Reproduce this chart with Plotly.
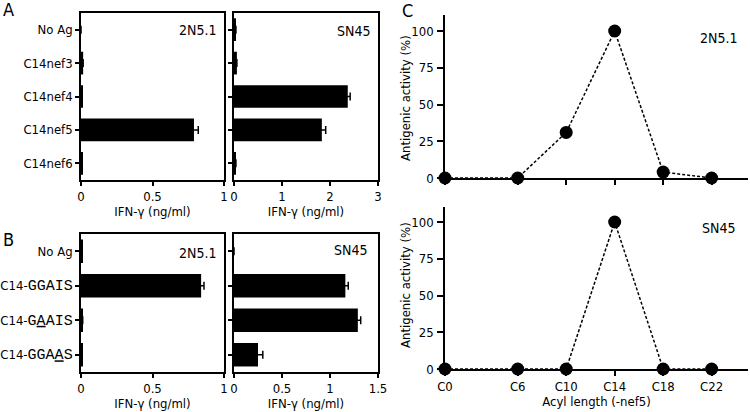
import plotly.graph_objects as go

# ---------------- data ----------------
catA = ["No Ag", "C14nef3", "C14nef4", "C14nef5", "C14nef6"]
a_2n5 = [0.0, 0.015, 0.008, 0.79, 0.008]
a_2n5_err = [0, 0, 0, 0.03, 0]
a_sn45 = [0.04, 0.06, 2.37, 1.83, 0.04]
a_sn45_err = [0, 0, 0.05, 0.08, 0]

catB = ["No Ag", "C14-GGAIS", "C14-GAAIS", "C14-GGAAS"]
seqB = ["", "GGAIS", "GAAIS", "GGAAS"]
underlineB = [None, None, 1, 3]   # index of substituted residue
b_2n5 = [0.008, 0.84, 0.012, 0.008]
b_2n5_err = [0, 0.02, 0, 0]
b_sn45 = [0.0, 1.16, 1.29, 0.25]
b_sn45_err = [0, 0.03, 0.03, 0.05]

acyl = [0, 6, 10, 14, 18, 22]
acyl_labels = ["C0", "C6", "C10", "C14", "C18", "C22"]
c_2n5 = [0, 0, 31, 100, 4, 0]
c_sn45 = [0, 0, 0, 100, 0, 0]

xtickA_left = [0, 0.5, 1]
xtickA_right = [0, 1, 2, 3]
xtickB_left = [0, 0.5, 1]
xtickB_right = [0, 0.5, 1, 1.5]
ytickC = [0, 25, 50, 75, 100]

# ---------------- style ----------------
W, H = 750, 412
SANS = "DejaVu Sans Condensed, Liberation Sans Narrow, sans-serif"
MONO = "Liberation Mono, Courier New, monospace"
FS = 13
LW = 1.5


def xd(a, b):
    return [a / W, b / W]


def yd(top, bottom):
    return [1 - bottom / H, 1 - top / H]


def label_B(cat, seq, ul):
    if not seq:
        return cat
    prefix = cat[: len(cat) - len(seq)]
    s = ""
    for i, ch in enumerate(seq):
        s += f"<u>{ch}</u>" if i == ul else ch
    return prefix + f"<span style='font-family:{MONO};font-size:15px'>{s}</span>"


labB = [label_B(c, s, u) for c, s, u in zip(catB, seqB, underlineB)]

fig = go.Figure()


def add_bars(x, err, cats, xa, ya):
    fig.add_trace(go.Bar(
        x=x, y=cats, orientation="h", xaxis=xa, yaxis=ya,
        marker=dict(color="black", line=dict(width=0)), width=0.68,
        error_x=dict(type="data", array=err, color="black", thickness=1.5, width=4),
        showlegend=False,
    ))


add_bars(a_2n5, a_2n5_err, catA, "x", "y")
add_bars(a_sn45, a_sn45_err, catA, "x2", "y2")
add_bars(b_2n5, b_2n5_err, catB, "x3", "y3")
add_bars(b_sn45, b_sn45_err, catB, "x4", "y4")

line_style = dict(color="black", width=1.5, dash="3px,2px")
marker_style = dict(color="black", size=13)
fig.add_trace(go.Scatter(x=acyl, y=c_2n5, xaxis="x5", yaxis="y5", mode="lines+markers",
                         line=line_style, marker=marker_style, cliponaxis=False, showlegend=False))
fig.add_trace(go.Scatter(x=acyl, y=c_sn45, xaxis="x6", yaxis="y6", mode="lines+markers",
                         line=line_style, marker=marker_style, cliponaxis=False, showlegend=False))

box = dict(showline=True, mirror=True, linecolor="black", linewidth=LW,
           ticks="outside", ticklen=4, tickwidth=LW, tickcolor="black", automargin=False,
           showgrid=False, zeroline=False, tickfont=dict(family=SANS, size=FS, color="black"))

xtitle = dict(text="IFN-γ (ng/ml)", font=dict(family=SANS, size=FS, color="black"), standoff=4)

layout = dict(
    width=W, height=H, margin=dict(l=0, r=0, t=0, b=0, autoexpand=False),
    paper_bgcolor="white", plot_bgcolor="white",
    font=dict(family=SANS, size=FS, color="black"),
    bargap=0.3,
)

# Panel A
layout["xaxis"] = dict(box, domain=xd(81, 224), range=[0, 1], anchor="y",
                       tickvals=xtickA_left, ticktext=["0", "0.5", "1"], title=xtitle)
layout["yaxis"] = dict(box, domain=yd(13, 180), anchor="x", type="category",
                       categoryorder="array", categoryarray=catA, range=[len(catA) - 0.5, -0.5])
layout["xaxis2"] = dict(box, domain=xd(234, 378), range=[0, 3], anchor="y2",
                        tickvals=xtickA_right, title=xtitle)
layout["yaxis2"] = dict(box, domain=yd(13, 180), anchor="x2", type="category",
                        categoryorder="array", categoryarray=catA, range=[len(catA) - 0.5, -0.5],
                        showticklabels=False)
# Panel B
layout["xaxis3"] = dict(box, domain=xd(81, 224), range=[0, 1], anchor="y3",
                        tickvals=xtickB_left, ticktext=["0", "0.5", "1"], title=xtitle)
layout["yaxis3"] = dict(box, domain=yd(234, 372), anchor="x3", type="category",
                        categoryorder="array", categoryarray=catB, range=[len(catB) - 0.5, -0.5],
                        tickmode="array", tickvals=catB, ticktext=labB)
layout["xaxis4"] = dict(box, domain=xd(234, 378), range=[0, 1.5], anchor="y4",
                        tickvals=xtickB_right, ticktext=["0", "0.5", "1", "1.5"], title=xtitle)
layout["yaxis4"] = dict(box, domain=yd(234, 372), anchor="x4", type="category",
                        categoryorder="array", categoryarray=catB, range=[len(catB) - 0.5, -0.5],
                        showticklabels=False)

# Panel C
cax = dict(showline=True, mirror=False, linecolor="black", linewidth=LW,
           ticks="outside", ticklen=6, tickwidth=LW, tickcolor="black", automargin=False,
           showgrid=False, zeroline=False, tickfont=dict(family=SANS, size=FS, color="black"))
layout["xaxis5"] = dict(cax, domain=xd(445, 748), range=[0, 25], anchor="y5",
                        tickvals=acyl, showticklabels=False, ticklen=5)
layout["yaxis5"] = dict(cax, domain=yd(15, 178), range=[0, 110.9], anchor="x5",
                        tickvals=ytickC, ticklabelstandoff=1)
layout["xaxis6"] = dict(cax, domain=xd(445, 748), range=[0, 25], anchor="y6",
                        tickvals=acyl, ticktext=acyl_labels, ticklen=5,
                        title=dict(text="Acyl length (-nef5)", font=dict(family=SANS, size=FS, color="black"),
                                   standoff=2))
layout["yaxis6"] = dict(cax, domain=yd(207, 369), range=[0, 110.2], anchor="x6",
                        tickvals=ytickC, ticklabelstandoff=1)


def ann(text, x, y, size, xanchor="center", angle=0):
    return dict(text=text, x=x / W, y=1 - y / H, xref="paper", yref="paper",
                showarrow=False, xanchor=xanchor, yanchor="middle", textangle=angle,
                font=dict(family=SANS, size=size, color="black"))


layout["annotations"] = [
    ann("A", 1, 10, 18, "left"),
    ann("B", 1, 240, 18, "left"),
    ann("C", 400, 11, 18, "left"),
    ann("2N5.1", 197, 30, 14),
    ann("SN45", 353, 31, 14),
    ann("2N5.1", 197, 253, 14),
    ann("SN45", 350, 250, 14),
    ann("2N5.1", 718, 38, 14),
    ann("SN45", 718, 228, 14),
    ann("Antigenic activity (%)", 405, 98, FS, angle=-90),
    ann("Antigenic activity (%)", 405, 285, FS, angle=-90),
]

fig.update_layout(**layout)
fig.write_html("out.html", config={"displayModeBar": False},
               post_script="document.body.style.margin='0px';")
